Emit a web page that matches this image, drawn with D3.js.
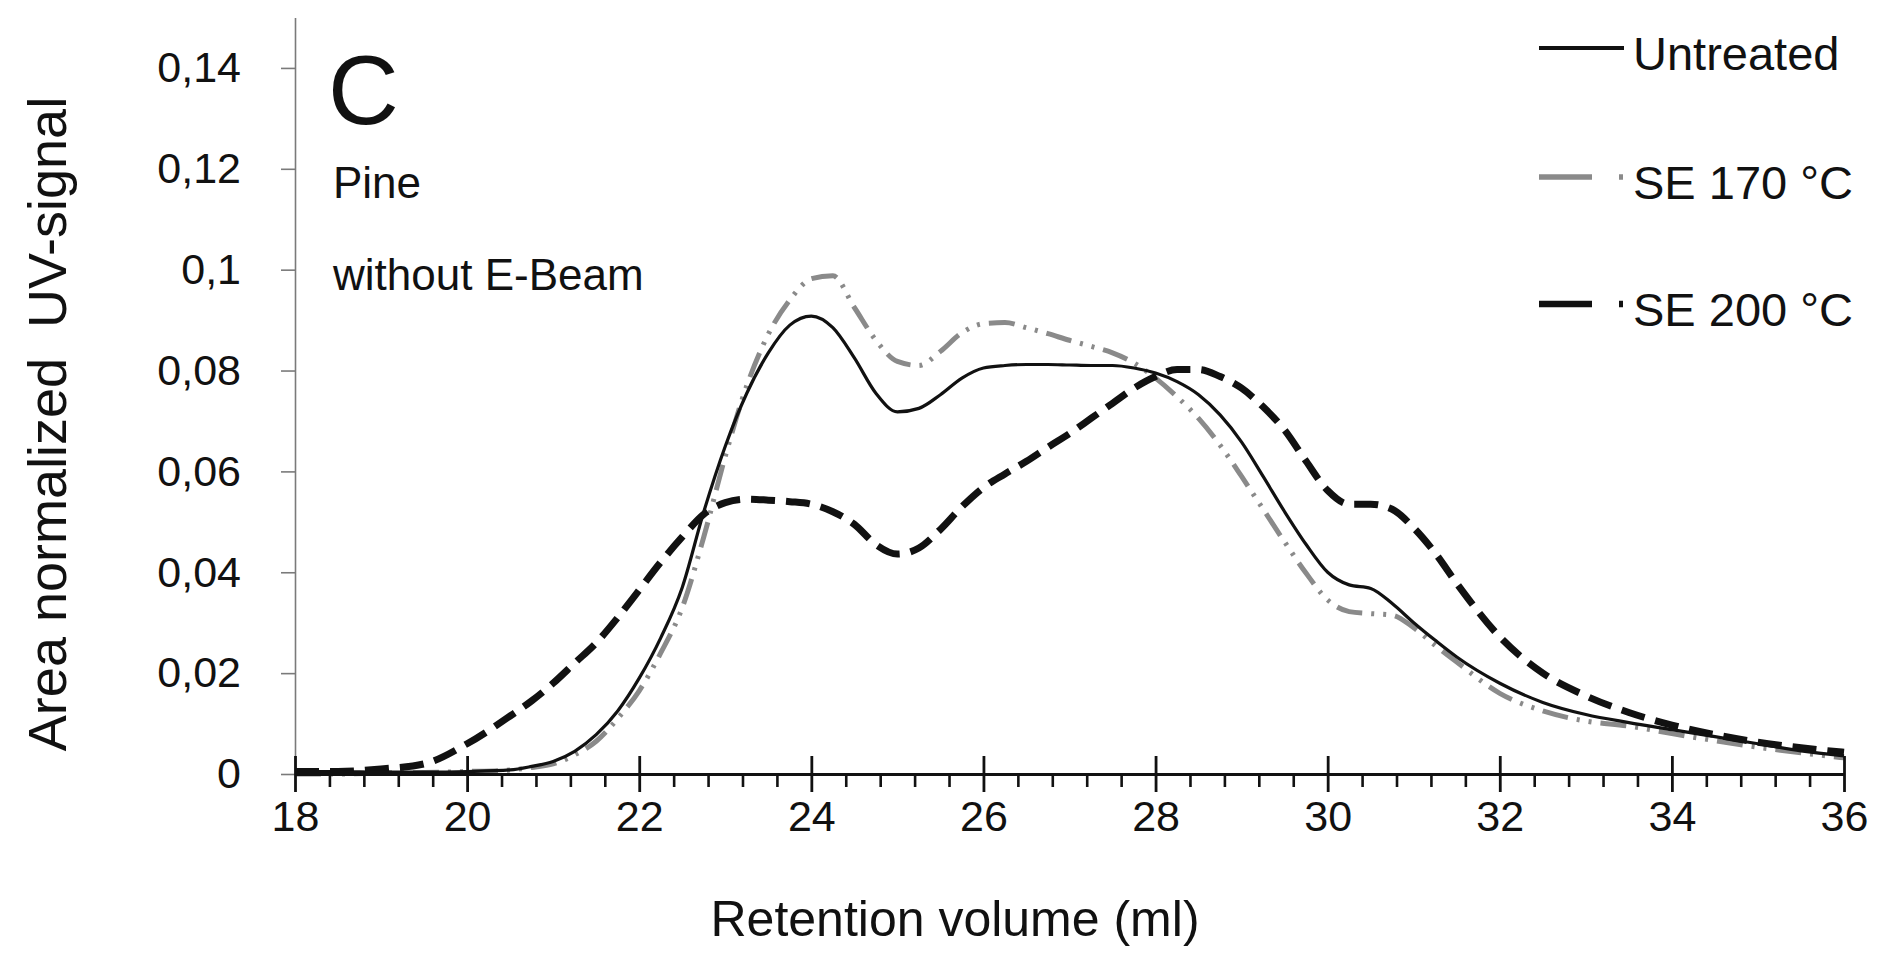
<!DOCTYPE html>
<html>
<head>
<meta charset="utf-8">
<script src="https://cdn.jsdelivr.net/npm/d3@7"></script>
<style>
  html, body { margin: 0; padding: 0; background: #ffffff; }
  svg { display: block; }
  text { font-family: "Liberation Sans", Arial, Helvetica, sans-serif; fill: #111; }
</style>
</head>
<body>
<svg id="chart" width="1881" height="958"></svg>
<script>
// Retention volume (ml) sampling points
const retention = [
  18, 18.5, 19, 19.5, 20,
  20.5, 20.75, 21, 21.25, 21.5, 21.75, 22, 22.25, 22.5, 22.75,
  23, 23.25, 23.5, 23.75, 24, 24.25, 24.5, 24.75, 25, 25.25,
  25.5, 25.75, 26, 26.25, 26.5, 26.75, 27, 27.25, 27.5, 27.75,
  28, 28.25, 28.5, 28.75, 29, 29.25, 29.5, 29.75, 30, 30.25,
  30.5, 30.75, 31, 31.25, 31.5,
  32, 32.5, 33, 33.5, 34, 34.5, 35, 35.5, 36
];

// Area normalized UV-signal per sample
const untreated = [
  0.0005, 0.0005, 0.0004, 0.0004, 0.0005,
  0.0008, 0.0015, 0.0025, 0.0045, 0.0078, 0.0125, 0.019, 0.027, 0.037, 0.052,
  0.065, 0.0755, 0.0835, 0.089, 0.0908, 0.0885, 0.0825, 0.0755, 0.0718, 0.0725,
  0.0752, 0.0785, 0.0805, 0.081, 0.0812, 0.0812, 0.0811, 0.081, 0.081, 0.0805,
  0.0795, 0.0778, 0.0752, 0.0712, 0.0658, 0.059, 0.052, 0.0455, 0.040, 0.0375,
  0.0368, 0.0338, 0.030, 0.0265, 0.0232,
  0.018, 0.0142, 0.0118, 0.0102, 0.0088, 0.0074, 0.006, 0.0046, 0.0036
];

const se170 = [
  0.0, 0.0, 0.0002, 0.0003, 0.0005,
  0.0008, 0.0013, 0.002, 0.0038, 0.0065, 0.011, 0.0165, 0.024, 0.033, 0.047,
  0.063, 0.077, 0.0872, 0.094, 0.0982, 0.0988, 0.0925, 0.086, 0.0818, 0.081,
  0.0838, 0.0875, 0.0893, 0.0895, 0.0885, 0.0873, 0.086, 0.0848, 0.0835, 0.0815,
  0.0785, 0.0748, 0.0705, 0.0652, 0.059, 0.0525, 0.046, 0.0398, 0.0345, 0.0322,
  0.0318, 0.0315, 0.029, 0.0255, 0.0222,
  0.016, 0.0125, 0.0105, 0.0095, 0.008, 0.0066, 0.0053, 0.0042, 0.0032
];

const se200 = [
  0.0005, 0.0005, 0.001, 0.002, 0.006,
  0.0115, 0.0145, 0.018, 0.022, 0.026, 0.031, 0.0365, 0.042, 0.047, 0.0515,
  0.0538, 0.0545, 0.0543, 0.054, 0.0535, 0.052, 0.0495, 0.0455, 0.0436, 0.0448,
  0.0485, 0.053, 0.0568, 0.0595, 0.062, 0.0648, 0.0675, 0.0705, 0.0735, 0.0765,
  0.0788, 0.0802, 0.0802, 0.0788, 0.0765, 0.0728, 0.0682, 0.062, 0.0562, 0.0535,
  0.0535, 0.0525, 0.0488, 0.0438, 0.0378,
  0.0272, 0.02, 0.0155, 0.0122, 0.0097, 0.0078, 0.0063, 0.0052, 0.0043
];

const seriesNames = ["Untreated", "SE 170 °C", "SE 200 °C"];
const xTicksMajor = [18, 20, 22, 24, 26, 28, 30, 32, 34, 36];
const yTicks = [0, 0.02, 0.04, 0.06, 0.08, 0.1, 0.12, 0.14];

const svg = d3.select("#chart");

const x = d3.scaleLinear().domain([18, 36]).range([295, 1844]);
const y = d3.scaleLinear().domain([0, 0.15]).range([774, 17.5]);

const comma = d3.formatLocale({ decimal: ",", thousands: ".", grouping: [3], currency: ["", ""] }).format("~g");

// Series styles
const styles = {
  "Untreated": { stroke: "#111", width: 3.2, dash: null, legendDash: null, legendWidth: 3.8 },
  "SE 170 °C": { stroke: "#8a8a8a", width: 5, dash: "26,9,3,9,3,9", legendDash: "53,27,4,60", legendWidth: 5.5 },
  "SE 200 °C": { stroke: "#111", width: 7, dash: "24,11", legendDash: "53,27,4,60", legendWidth: 6.5 }
};

const seriesData = {
  "Untreated": untreated,
  "SE 170 °C": se170,
  "SE 200 °C": se200
};

// Y axis (thin grey)
const yAxis = d3.axisLeft(y).tickValues(yTicks).tickFormat(comma).tickSize(14).tickSizeOuter(0).tickPadding(40);
const gy = svg.append("g").attr("transform", `translate(${x(18)},0)`).call(yAxis);
gy.select(".domain").attr("stroke", "#7a7a7a").attr("stroke-width", 1.6);
gy.selectAll(".tick line").attr("stroke", "#7a7a7a").attr("stroke-width", 1.6);
gy.selectAll(".tick text").style("font-size", "43px").attr("fill", "#111")
  .style("font-family", "'Liberation Sans', Arial, sans-serif");

// Curves
const line = d3.line()
  .x(d => x(d[0]))
  .y(d => y(d[1]))
  .curve(d3.curveMonotoneX);

const drawOrder = ["SE 170 °C", "SE 200 °C", "Untreated"];
drawOrder.forEach(name => {
  const vals = seriesData[name];
  const pts = retention.map((r, i) => [r, vals[i]]);
  const st = styles[name];
  svg.append("path")
    .datum(pts)
    .attr("d", line)
    .attr("fill", "none")
    .attr("stroke", st.stroke)
    .attr("stroke-width", st.width)
    .attr("stroke-dasharray", st.dash)
    .attr("stroke-linejoin", "round");
});

// X axis: minor ticks every 0.4 ml, major ticks crossing the axis
const minorTicks = d3.range(0, 46).map(i => +(18 + i * 0.4).toFixed(1))
  .filter(v => !xTicksMajor.some(m => Math.abs(m - v) < 1e-6));

const gxMinor = svg.append("g").attr("transform", `translate(0,${y(0)})`)
  .call(d3.axisBottom(x).tickValues(minorTicks).tickFormat("").tickSize(13).tickSizeOuter(0));
gxMinor.select(".domain").remove();
gxMinor.selectAll(".tick line").attr("stroke", "#111").attr("stroke-width", 2.6);

const gx = svg.append("g").attr("transform", `translate(0,${y(0)})`)
  .call(d3.axisBottom(x).tickValues(xTicksMajor).tickFormat(d3.format("d")).tickSize(18).tickSizeOuter(0).tickPadding(8));
gx.select(".domain").attr("stroke", "#111").attr("stroke-width", 3.2);
gx.selectAll(".tick line").attr("y1", -18).attr("stroke", "#111").attr("stroke-width", 2.8);
gx.selectAll(".tick text").style("font-size", "43px").attr("fill", "#111")
  .style("font-family", "'Liberation Sans', Arial, sans-serif");

// Axis titles
svg.append("text")
  .attr("x", 955).attr("y", 936)
  .attr("text-anchor", "middle")
  .style("font-size", "50px")
  .text("Retention volume (ml)");

svg.append("text")
  .attr("transform", "translate(66,424) rotate(-90)")
  .attr("text-anchor", "middle")
  .style("font-size", "54px")
  .style("white-space", "pre")
  .text("Area normalized  UV-signal");

// Panel annotations
svg.append("text").attr("x", 328).attr("y", 124).style("font-size", "98px").text("C");
svg.append("text").attr("x", 333).attr("y", 198).style("font-size", "44px").text("Pine");
svg.append("text").attr("x", 333).attr("y", 290).style("font-size", "44px").text("without E-Beam");

// Legend
const legendRows = [48, 177, 304];
seriesNames.forEach((name, i) => {
  const st = styles[name];
  const ly = legendRows[i];
  svg.append("line")
    .attr("x1", 1539).attr("x2", 1624)
    .attr("y1", ly).attr("y2", ly)
    .attr("stroke", st.stroke)
    .attr("stroke-width", st.legendWidth)
    .attr("stroke-dasharray", st.legendDash);
  svg.append("text")
    .attr("x", 1633).attr("y", ly + 22)
    .style("font-size", "47px")
    .text(name);
});
</script>
</body>
</html>
